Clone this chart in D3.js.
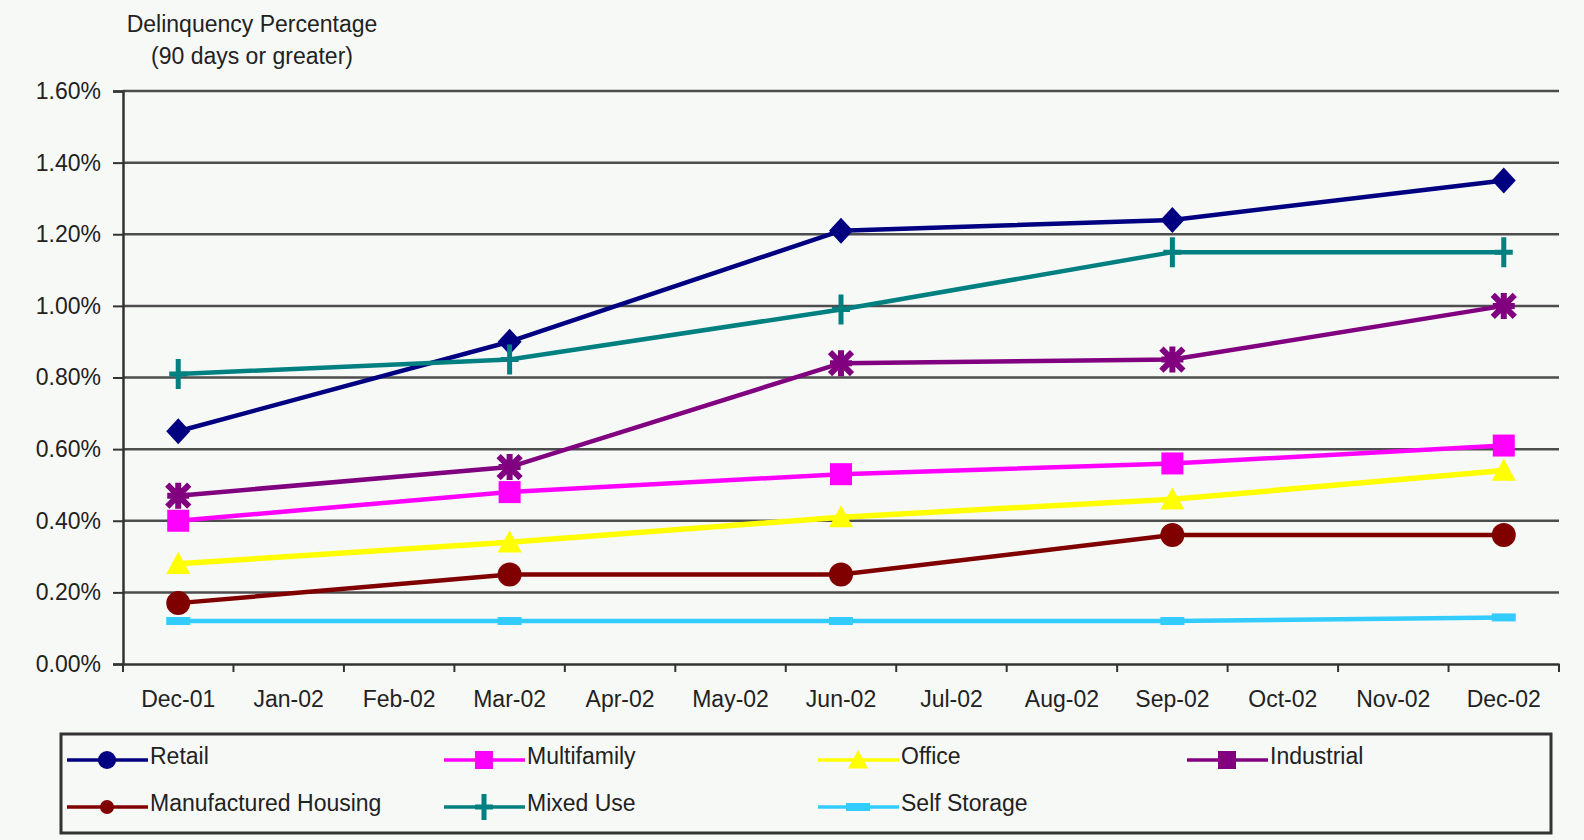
<!DOCTYPE html>
<html>
<head>
<meta charset="utf-8">
<script src="https://cdn.jsdelivr.net/npm/d3@7"></script>
<style>
  body { margin: 0; background: #f7f9f7; }
  svg { display: block; font-family: "Liberation Sans", Arial, sans-serif; }
</style>
</head>
<body>
<div id="viz"></div>
<script>
var months = ['Dec-01', 'Jan-02', 'Feb-02', 'Mar-02', 'Apr-02', 'May-02', 'Jun-02',
              'Jul-02', 'Aug-02', 'Sep-02', 'Oct-02', 'Nov-02', 'Dec-02'],
    quarters = ['Dec-01', 'Mar-02', 'Jun-02', 'Sep-02', 'Dec-02'],
    yTicks = [0, 0.002, 0.004, 0.006, 0.008, 0.010, 0.012, 0.014, 0.016];

var retail       = [0.0065, 0.0090, 0.0121, 0.0124, 0.0135],
    multifamily  = [0.0040, 0.0048, 0.0053, 0.0056, 0.0061],
    office       = [0.0028, 0.0034, 0.0041, 0.0046, 0.0054],
    industrial   = [0.0047, 0.0055, 0.0084, 0.0085, 0.0100],
    manufactured = [0.0017, 0.0025, 0.0025, 0.0036, 0.0036],
    mixedUse     = [0.0081, 0.0085, 0.0099, 0.0115, 0.0115],
    selfStorage  = [0.0012, 0.0012, 0.0012, 0.0012, 0.0013];

var seriesNames = ['Retail', 'Multifamily', 'Office', 'Industrial',
                   'Manufactured Housing', 'Mixed Use', 'Self Storage'];

var series = [
  { name: seriesNames[0], values: retail,       color: '#000080', marker: 'diamond',  legendMarker: 'legcircle' },
  { name: seriesNames[1], values: multifamily,  color: '#ff00ff', marker: 'square',   legendMarker: 'legsquare' },
  { name: seriesNames[2], values: office,       color: '#ffff00', marker: 'triangle', legendMarker: 'legtriangle' },
  { name: seriesNames[3], values: industrial,   color: '#800080', marker: 'star',     legendMarker: 'legsquare' },
  { name: seriesNames[4], values: manufactured, color: '#800000', marker: 'circle',   legendMarker: 'smallcircle' },
  { name: seriesNames[5], values: mixedUse,     color: '#008080', marker: 'plus',     legendMarker: 'legplus' },
  { name: seriesNames[6], values: selfStorage,  color: '#33ccff', marker: 'dash',     legendMarker: 'legdash' }
];

var W = 1584, H = 840,
    plot = { left: 123, right: 1559, top: 91, bottom: 664 };

var svg = d3.select('#viz').append('svg')
  .attr('width', W)
  .attr('height', H);

svg.append('rect')
  .attr('width', W).attr('height', H)
  .attr('fill', '#f7f9f7');

var xScale = d3.scaleBand()
  .domain(months)
  .range([plot.left, plot.right]);

var yScale = d3.scaleLinear()
  .domain([0, 0.016])
  .range([plot.bottom, plot.top]);

function xPos(m) { return xScale(m) + xScale.bandwidth() / 2; }

// title
var title = svg.append('text')
  .attr('text-anchor', 'middle')
  .attr('font-size', 23)
  .attr('fill', '#222');
title.append('tspan').attr('x', 252).attr('y', 32).text('Delinquency Percentage');
title.append('tspan').attr('x', 252).attr('y', 64).text('(90 days or greater)');

// grid lines
svg.append('g')
  .selectAll('line').data(yTicks.slice(1))
  .enter().append('line')
    .attr('x1', plot.left).attr('x2', plot.right)
    .attr('y1', function(d) { return yScale(d); })
    .attr('y2', function(d) { return yScale(d); })
    .attr('stroke', '#4d4d4d')
    .attr('stroke-width', 2.5);

// y axis
var yAxis = d3.axisLeft(yScale)
  .tickValues(yTicks)
  .tickFormat(d3.format('.2%'))
  .tickSize(10)
  .tickPadding(12);

var yGuide = svg.append('g')
  .attr('transform', 'translate(' + plot.left + ',0)')
  .call(yAxis);
yGuide.select('.domain').attr('stroke', '#333').attr('stroke-width', 2.5);
yGuide.selectAll('.tick line').attr('stroke', '#333').attr('stroke-width', 2);
yGuide.selectAll('.tick text')
  .attr('font-size', 23)
  .attr('font-family', '"Liberation Sans", Arial, sans-serif')
  .attr('fill', '#222');

// x axis
var xAxis = d3.axisBottom(xScale)
  .tickSize(0)
  .tickPadding(27);

var xGuide = svg.append('g')
  .attr('transform', 'translate(0,' + plot.bottom + ')')
  .call(xAxis);
xGuide.select('.domain').attr('stroke', '#333').attr('stroke-width', 2.5);
xGuide.selectAll('.tick text')
  .attr('font-size', 23)
  .attr('font-family', '"Liberation Sans", Arial, sans-serif')
  .attr('fill', '#222');

// x ticks at band boundaries
xGuide.append('g')
  .selectAll('line').data(months.concat(['end']))
  .enter().append('line')
    .attr('x1', function(d, i) { return plot.left + i * xScale.bandwidth(); })
    .attr('x2', function(d, i) { return plot.left + i * xScale.bandwidth(); })
    .attr('y1', 0).attr('y2', 8)
    .attr('stroke', '#333')
    .attr('stroke-width', 2);

// markers
function drawMarker(g, type, color, cx, cy) {
  if (type === 'diamond') {
    g.append('path')
      .attr('d', 'M' + cx + ',' + (cy - 13) + 'L' + (cx + 12) + ',' + cy +
                 'L' + cx + ',' + (cy + 13) + 'L' + (cx - 12) + ',' + cy + 'Z')
      .attr('fill', color);
  } else if (type === 'square' || type === 'legsquare') {
    var h = type === 'square' ? 11 : 9;
    g.append('rect')
      .attr('x', cx - h).attr('y', cy - h)
      .attr('width', 2 * h).attr('height', 2 * h)
      .attr('fill', color);
  } else if (type === 'triangle' || type === 'legtriangle') {
    var t = type === 'triangle' ? 12 : 10;
    g.append('path')
      .attr('d', 'M' + cx + ',' + (cy - t) + 'L' + (cx + t) + ',' + (cy + t * 0.85) +
                 'L' + (cx - t) + ',' + (cy + t * 0.85) + 'Z')
      .attr('fill', color);
  } else if (type === 'star') {
    var s = 11;
    g.append('path')
      .attr('d', 'M' + (cx - s) + ',' + (cy - s) + 'L' + (cx + s) + ',' + (cy + s) +
                 'M' + (cx - s) + ',' + (cy + s) + 'L' + (cx + s) + ',' + (cy - s) +
                 'M' + cx + ',' + (cy - s - 2) + 'L' + cx + ',' + (cy + s + 2) +
                 'M' + (cx - s) + ',' + cy + 'L' + (cx + s) + ',' + cy)
      .attr('stroke', color)
      .attr('stroke-width', 6);
  } else if (type === 'circle' || type === 'smallcircle' || type === 'legcircle') {
    g.append('circle')
      .attr('cx', cx).attr('cy', cy)
      .attr('r', type === 'circle' ? 12 : (type === 'legcircle' ? 9 : 7))
      .attr('fill', color);
  } else if (type === 'plus' || type === 'legplus') {
    var v = type === 'plus' ? 15 : 13;
    g.append('path')
      .attr('d', 'M' + (cx - 9) + ',' + cy + 'L' + (cx + 9) + ',' + cy +
                 'M' + cx + ',' + (cy - v) + 'L' + cx + ',' + (cy + v))
      .attr('stroke', color)
      .attr('stroke-width', 5);
  } else if (type === 'dash' || type === 'legdash') {
    g.append('rect')
      .attr('x', cx - 12).attr('y', cy - 4)
      .attr('width', 24).attr('height', 8)
      .attr('fill', color);
  }
}

var line = d3.line()
  .x(function(d) { return xPos(d.month); })
  .y(function(d) { return yScale(d.value); });

var seriesG = svg.append('g');

series.forEach(function(s) {
  var pts = quarters.map(function(q, i) { return { month: q, value: s.values[i] }; });
  var g = seriesG.append('g');
  g.append('path')
    .datum(pts)
    .attr('d', line)
    .attr('fill', 'none')
    .attr('stroke', s.color)
    .attr('stroke-width', s.name === 'Office' ? 5.5 : 4.5);
  pts.forEach(function(p) {
    drawMarker(g, s.marker, s.color, xPos(p.month), yScale(p.value));
  });
});

// legend
var legend = svg.append('g');
legend.append('rect')
  .attr('x', 61).attr('y', 734)
  .attr('width', 1490).attr('height', 99)
  .attr('fill', 'none')
  .attr('stroke', '#333')
  .attr('stroke-width', 3);

var legendCols = [67, 444, 818, 1187],
    legendRows = [760, 807];

series.forEach(function(s, i) {
  var col = legendCols[i % 4],
      row = legendRows[Math.floor(i / 4)];
  var g = legend.append('g');
  g.append('line')
    .attr('x1', col).attr('x2', col + 81)
    .attr('y1', row).attr('y2', row)
    .attr('stroke', s.color)
    .attr('stroke-width', 3.5);
  drawMarker(g, s.legendMarker, s.color, col + 40, row);
  g.append('text')
    .attr('x', col + 83)
    .attr('y', row - 4)
    .attr('dy', '0.35em')
    .attr('font-size', 23)
    .attr('fill', '#222')
    .text(s.name);
});
</script>
</body>
</html>
